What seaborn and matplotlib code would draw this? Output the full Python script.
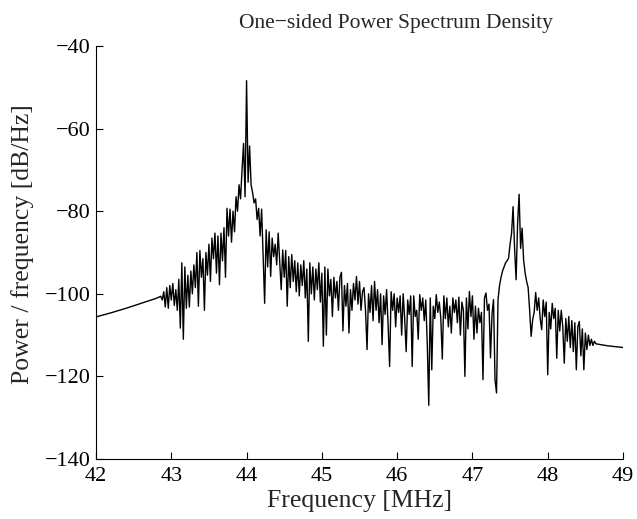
import numpy as np
import pandas as pd
import matplotlib
matplotlib.use("Agg")
import matplotlib.pyplot as plt
import seaborn as sns

# ---- data ----
# smooth lead-in (MHz, dB/Hz)
freq_lead = [42.0, 42.2, 42.4, 42.6, 42.8]
psd_lead = [-105.6, -104.6, -103.5, -102.3, -101.1]

# noisy section: bins from 42.86 MHz, 0.02 MHz apart
noisy_start = 42.86
noisy_step = 0.02
psd_noisy = [
    -100.6, -101.5, -99.5, -103.2, -98.5, -103.5, -98.0, -101.5, -97.5, -102.8,   # 42.86
    -99.0, -104.0, -96.5, -108.3, -92.5, -111.0, -93.5, -103.5, -95.5, -103.2,    # 43.06
    -94.5, -100.0, -93.0, -98.5, -90.0, -103.0, -89.5, -96.0, -91.5, -104.0,      # 43.26
    -90.0, -95.5, -88.0, -97.0, -86.5, -91.5, -85.3, -95.0, -86.0, -97.8,         # 43.46
    -85.3, -92.0, -84.0, -96.0, -79.3, -86.0, -79.5, -87.5, -80.0, -85.0,         # 43.66
    -76.5, -80.0, -73.6, -77.0, -70.0, -63.6, -76.5, -48.4, -73.0, -64.2,         # 43.86
    -73.6, -75.5, -78.0, -77.0, -82.0, -79.3, -86.0, -79.5, -90.5, -102.3,        # 44.06
    -84.5, -93.5, -85.0, -95.8, -86.5, -91.0, -88.0, -93.0, -85.3, -92.0,         # 44.26
    -99.0, -89.4, -96.0, -89.5, -103.0, -91.0, -98.5, -90.5, -97.0, -92.0,        # 44.46
    -99.5, -92.5, -100.5, -93.0, -98.0, -92.0, -101.0, -94.0, -111.5, -92.5,      # 44.66
    -100.0, -93.5, -101.5, -94.0, -99.0, -92.5, -102.0, -95.0, -112.7, -93.5,     # 44.86
    -110.0, -94.0, -100.5, -96.5, -105.5, -96.0, -101.0, -97.0, -104.0, -96.0,    # 45.06
    -94.8, -109.0, -98.0, -103.0, -97.5, -109.5, -99.0, -104.0, -97.5, -101.5,    # 45.26
    -95.8, -102.5, -97.0, -104.0, -99.5, -98.5, -104.0, -113.5, -100.0, -104.5,   # 45.46
    -98.0, -106.5, -97.0, -104.0, -99.0, -107.0, -100.0, -112.3, -100.5, -105.0,  # 45.66
    -99.0, -107.5, -117.6, -99.5, -104.0, -100.0, -108.0, -101.0, -104.5, -100.5, # 45.86
    -110.0, -100.0, -106.0, -114.0, -101.5, -105.0, -100.5, -117.6, -100.5, -105.5,  # 46.06
    -104.0, -111.0, -100.2, -104.0, -101.0, -106.5, -101.5, -112.0, -127.0, -101.0,  # 46.26
    -118.4, -103.0, -106.0, -100.2, -104.5, -102.0, -106.0, -115.8, -100.5, -106.0,  # 46.46
    -101.0, -108.0, -103.0, -109.5, -101.0, -104.5, -101.5, -107.0, -100.8, -110.0,  # 46.66
    -102.0, -104.0, -120.0, -101.0, -108.5, -99.4, -105.5, -100.5, -111.0, -103.0,   # 46.86
    -109.5, -103.5, -107.0, -104.5, -120.8, -101.0, -99.8, -104.0, -102.5, -115.5,   # 47.06
    -105.0, -101.4, -120.8, -124.0, -101.4, -98.0, -96.0, -94.5, -93.5, -92.5,       # 47.26
    -92.0, -91.4, -88.0, -85.3, -78.9, -89.0, -96.6, -83.0, -75.9, -89.0,            # 47.46
    -84.1, -91.8, -95.0, -97.0, -98.5, -104.0, -110.3, -106.3, -104.5, -99.7,        # 47.66
    -104.0, -101.0, -106.0, -108.7, -101.5, -105.5, -102.0, -119.6, -104.5, -108.5,  # 47.86
    -102.3, -106.0, -103.5, -115.6, -104.0, -109.0, -104.0, -108.0, -116.8, -106.0,  # 48.06
    -111.5, -105.5, -113.0, -106.5, -114.0, -107.0, -118.4, -108.0, -106.7, -115.0,  # 48.26
    -108.5, -118.4, -109.5, -113.5, -110.0, -112.5, -111.0, -112.5, -111.5, -112.1,  # 48.46
]

# smooth tail
freq_tail = [48.7, 48.8, 48.9, 49.0]
psd_tail = [-112.3, -112.6, -112.8, -113.0]

xticks = [42, 43, 44, 45, 46, 47, 48, 49]
yticks = [-140, -120, -100, -80, -60, -40]

title = "One\u2212sided Power Spectrum Density"
xlabel = "Frequency [MHz]"
ylabel = "Power / frequency [dB/Hz]"

freq_noisy = list(noisy_start + noisy_step * np.arange(len(psd_noisy)))
df = pd.DataFrame({
    "freq": freq_lead + freq_noisy + freq_tail,
    "psd": psd_lead + psd_noisy + psd_tail,
})

sns.set_style("ticks")
plt.rcParams["font.family"] = ["Liberation Serif", "DejaVu Serif"]
plt.rcParams["axes.unicode_minus"] = True

fig = plt.figure(figsize=(6.37, 5.19), dpi=100)
ax = fig.add_axes([96 / 637, 1 - 459 / 519, (623 - 96) / 637, (459 - 46) / 519])

sns.lineplot(data=df, x="freq", y="psd", ax=ax, color="black", linewidth=1.0,
             sort=False, estimator=None)

ax.set_xlim(42, 49)
ax.set_ylim(-140, -40)
ax.set_xticks(xticks)
ax.set_yticks(yticks)
ax.set_xticklabels([str(t) for t in xticks])
ax.set_yticklabels([str(t).replace("-", "\u2212") for t in yticks])
ax.tick_params(direction="in", length=5, width=0.8, labelsize=16,
               colors="black")
ax.tick_params(axis="y", pad=4)
ax.tick_params(axis="x", pad=6)
for s in ["top", "right"]:
    ax.spines[s].set_visible(False)
for s in ["left", "bottom"]:
    ax.spines[s].set_linewidth(0.8)
    ax.spines[s].set_color("black")

ax.set_title(title, fontsize=15.5, pad=13, x=(396 - 96) / 527)
ax.set_xlabel(xlabel, fontsize=18.5, labelpad=3)
ax.set_ylabel(ylabel, fontsize=18.5)
ax.yaxis.set_label_coords(-0.117, 0.52)

fig.savefig("out.png", dpi=100, facecolor="white")
